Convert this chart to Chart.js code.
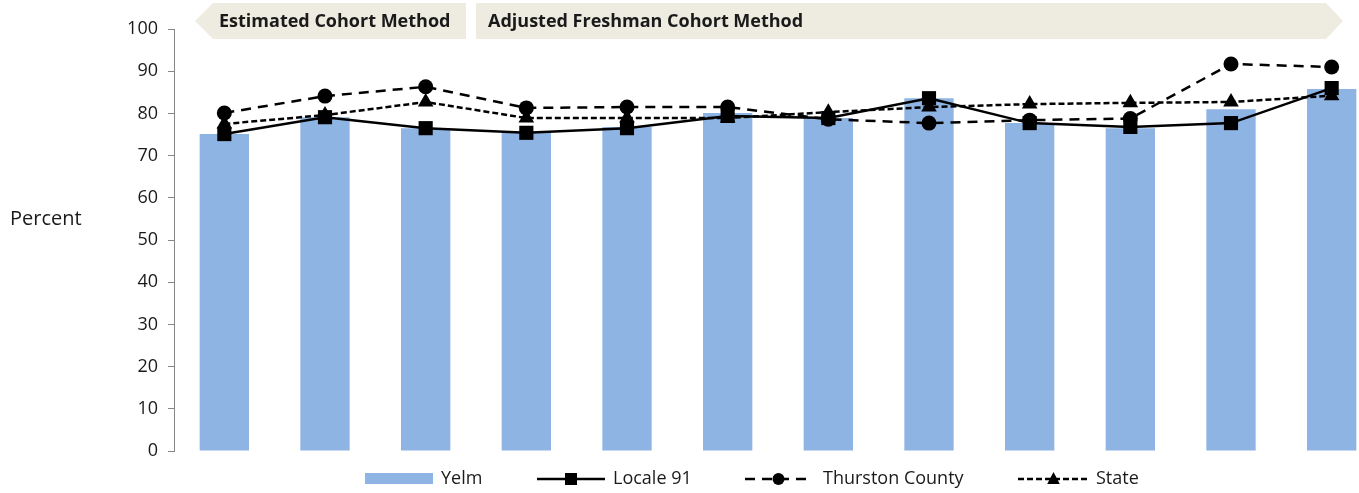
<!DOCTYPE html>
<html>
<head>
<meta charset="utf-8">
<script src="https://cdn.jsdelivr.net/npm/chart.js@4/dist/chart.umd.min.js"></script>
<style>
  body{ margin:0; background:#fff; overflow:hidden; }
  #wrap{ width:1392px; height:493px; }
</style>
</head>
<body>
<div id="wrap"><canvas id="chart" width="1392" height="493"></canvas></div>
<script>
// data (12 school years, unlabeled)
const categories = ["1","2","3","4","5","6","7","8","9","10","11","12"];
const yelm     = [75.1, 79.1, 76.5, 75.4, 76.8, 80.1, 78.9, 83.6, 77.7, 76.5, 81.0, 85.8];
const locale91 = [75.1, 79.1, 76.5, 75.4, 76.5, 79.4, 78.9, 83.6, 77.7, 76.8, 77.7, 86.0];
const thurston = [80.1, 84.1, 86.3, 81.3, 81.5, 81.5, 78.6, 77.7, 78.4, 78.8, 91.7, 91.0];
const state    = [77.5, 79.6, 82.7, 78.9, 78.9, 78.9, 80.3, 81.5, 82.2, 82.5, 82.7, 84.2];
const yTicks   = [0,10,20,30,40,50,60,70,80,90,100];
const methods  = ["Estimated Cohort Method", "Adjusted Freshman Cohort Method"];

const FONT = "'Open Sans', 'Liberation Sans', sans-serif";
const BLUE = "#8EB4E3";
const INK = "#1a1a1a";

// marker helper for the legend
function marker(ctx, style, x, y, r){
  ctx.beginPath();
  if(style === "rect"){
    ctx.rect(x - r, y - r, 2*r, 2*r);
  } else if(style === "circle"){
    ctx.arc(x, y, r, 0, Math.PI*2);
  } else {
    ctx.moveTo(x, y - r);
    ctx.lineTo(x + r*0.9, y + r*0.7);
    ctx.lineTo(x - r*0.9, y + r*0.7);
    ctx.closePath();
  }
  ctx.fillStyle = "#000";
  ctx.fill();
}

const extras = {
  id:"extras",
  afterDraw(chart){
    const ctx = chart.ctx;
    const a = chart.chartArea;
    ctx.save();

    // method banners
    ctx.fillStyle = "#EEEBE0";
    ctx.beginPath();
    ctx.moveTo(a.left + 21, 21);
    ctx.lineTo(a.left + 39, 3);
    ctx.lineTo(a.left + 292, 3);
    ctx.lineTo(a.left + 292, 39);
    ctx.lineTo(a.left + 39, 39);
    ctx.closePath();
    ctx.fill();
    ctx.beginPath();
    ctx.moveTo(a.left + 302, 3);
    ctx.lineTo(a.left + 1152, 3);
    ctx.lineTo(a.left + 1169, 21);
    ctx.lineTo(a.left + 1152, 39);
    ctx.lineTo(a.left + 302, 39);
    ctx.closePath();
    ctx.fill();

    ctx.fillStyle = INK;
    ctx.font = "bold 18px " + FONT;
    ctx.textBaseline = "middle";
    ctx.textAlign = "left";
    ctx.fillText(methods[0], a.left + 45, 22);
    ctx.fillText(methods[1], a.left + 314, 22);

    // axis title
    ctx.font = "20px " + FONT;
    ctx.fillText("Percent", 10, 219);

    // legend
    const ly = 479;
    const ds = chart.data.datasets;
    ctx.font = "18px " + FONT;
    // Yelm
    ctx.fillStyle = BLUE;
    ctx.fillRect(365, 473, 68, 11);
    ctx.fillStyle = INK;
    ctx.fillText(ds[0].label, 441, ly);
    // line items
    const items = [
      {d:ds[1], x0:537, w:68, style:"rect", r:6, tx:613},
      {d:ds[2], x0:745, w:67, style:"circle", r:6, tx:823},
      {d:ds[3], x0:1018, w:71, style:"tri", r:7, tx:1096}
    ];
    items.forEach(it=>{
      ctx.strokeStyle = "#000";
      ctx.lineWidth = 2.5;
      ctx.setLineDash(it.d.borderDash || []);
      ctx.beginPath();
      ctx.moveTo(it.x0, ly);
      ctx.lineTo(it.x0 + it.w, ly);
      ctx.stroke();
      ctx.setLineDash([]);
      marker(ctx, it.style, it.x0 + it.w/2, ly, it.r);
      ctx.fillStyle = INK;
      ctx.fillText(it.d.label, it.tx, ly);
    });
    ctx.restore();
  }
};

new Chart(document.getElementById("chart"), {
  data:{
    labels:categories,
    datasets:[
      { type:"bar", label:"Yelm", data:yelm, backgroundColor:BLUE,
        barPercentage:0.49, categoryPercentage:1, order:5 },
      { type:"line", label:"Locale 91", data:locale91, borderColor:"#000",
        borderWidth:2.5, pointStyle:"rect", pointRadius:10,
        pointBackgroundColor:"#000", pointBorderColor:"#000", pointBorderWidth:0, order:3 },
      { type:"line", label:"Thurston County", data:thurston, borderColor:"#000",
        borderWidth:2.5, borderDash:[10,7], pointStyle:"circle", pointRadius:7.5,
        pointBackgroundColor:"#000", pointBorderColor:"#000", pointBorderWidth:0, order:2 },
      { type:"line", label:"State", data:state, borderColor:"#000",
        borderWidth:2.5, borderDash:[6,3], pointStyle:"triangle", pointRadius:9,
        pointBackgroundColor:"#000", pointBorderColor:"#000", pointBorderWidth:0, order:1 }
    ]
  },
  options:{
    responsive:false,
    devicePixelRatio:1,
    animation:false,
    layout:{ padding:{ top:29, bottom:42, left:0, right:0 } },
    plugins:{ legend:{ display:false }, tooltip:{ enabled:false } },
    scales:{
      x:{ display:false, offset:true },
      y:{
        min:0, max:100,
        afterFit(s){ s.width = 174; },
        afterBuildTicks(s){ s.ticks = yTicks.map(v=>({value:v})); },
        border:{ color:"#868686", width:1 },
        grid:{ drawOnChartArea:false, drawTicks:true, tickLength:6, color:"#868686" },
        ticks:{ color:INK, padding:10, font:{ family:FONT, size:18 } }
      }
    }
  },
  plugins:[extras]
});
</script>
</body>
</html>
